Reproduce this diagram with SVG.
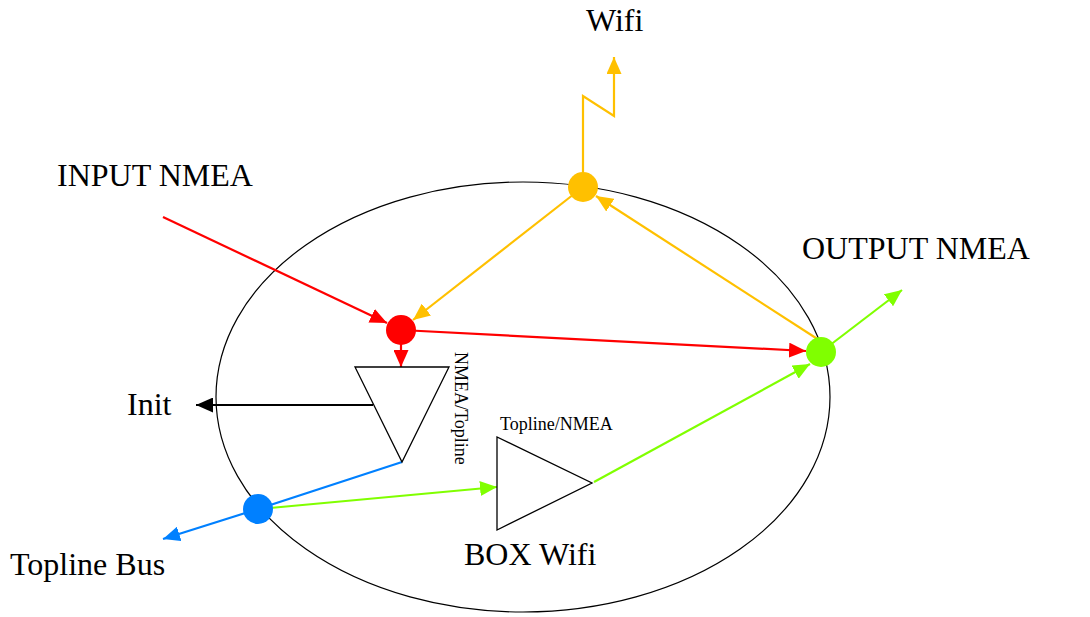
<svg xmlns="http://www.w3.org/2000/svg" width="1090" height="617" viewBox="0 0 1090 617">
<style>
.lbl{font-family:"Liberation Serif","Times New Roman",serif;font-size:32px;fill:#000}
.sm{font-family:"Liberation Serif","Times New Roman",serif;font-size:18px;fill:#000}
.c{fill:none;stroke-width:2.2}
.y{stroke:#FFC000}.r{stroke:#FF0000}.g{stroke:#80FF00}.b{stroke:#0080FF}.k{stroke:#000}
.tri{fill:#fff;stroke:#000;stroke-width:1.3}
</style>
<defs>
<marker id="ay" markerUnits="userSpaceOnUse" markerWidth="17" markerHeight="15" refX="17" refY="7.5" orient="auto"><path d="M0,0L17,7.5L0,15z" fill="#FFC000"/></marker>
<marker id="ar" markerUnits="userSpaceOnUse" markerWidth="17" markerHeight="15" refX="17" refY="7.5" orient="auto"><path d="M0,0L17,7.5L0,15z" fill="#FF0000"/></marker>
<marker id="ag" markerUnits="userSpaceOnUse" markerWidth="17" markerHeight="15" refX="17" refY="7.5" orient="auto"><path d="M0,0L17,7.5L0,15z" fill="#80FF00"/></marker>
<marker id="ab" markerUnits="userSpaceOnUse" markerWidth="17" markerHeight="15" refX="17" refY="7.5" orient="auto"><path d="M0,0L17,7.5L0,15z" fill="#0080FF"/></marker>
<marker id="ak" markerUnits="userSpaceOnUse" markerWidth="17" markerHeight="15" refX="17" refY="7.5" orient="auto"><path d="M0,0L17,7.5L0,15z" fill="#000"/></marker>
</defs>
<rect width="1090" height="617" fill="#fff"/>
<g id="boundary"><ellipse cx="523" cy="397" rx="307" ry="215" fill="none" stroke="#000" stroke-width="1.2"/></g>
<g id="connectors">
<polyline class="c y" points="583,187 583,96 614,116 614,57" marker-end="url(#ay)"/>
<line class="c y" x1="583" y1="187" x2="413" y2="320" marker-end="url(#ay)"/>
<line class="c y" x1="819" y1="340" x2="596" y2="196" marker-end="url(#ay)"/>
<line class="c r" x1="163" y1="217" x2="387" y2="323" marker-end="url(#ar)"/>
<line class="c r" x1="401" y1="340" x2="401" y2="367" marker-end="url(#ar)"/>
<line class="c r" x1="401" y1="330" x2="806" y2="351" marker-end="url(#ar)"/>
<line class="c k" x1="373" y1="405" x2="196" y2="405" marker-end="url(#ak)"/>
<polyline class="c b" points="402,462 258,509 163,539" marker-end="url(#ab)"/>
<line class="c g" x1="270" y1="508" x2="497" y2="487" marker-end="url(#ag)"/>
<line class="c g" x1="594" y1="482" x2="810" y2="364" marker-end="url(#ag)"/>
<line class="c g" x1="821" y1="352" x2="902" y2="290" marker-end="url(#ag)"/>
</g>
<g id="wifi-hub"><circle cx="583" cy="187" r="15" fill="#FFC000"/></g>
<g id="input-hub"><circle cx="401" cy="330" r="15" fill="#FF0000"/></g>
<g id="output-hub"><circle cx="821" cy="352" r="15" fill="#80FF00"/></g>
<g id="topline-hub"><circle cx="258" cy="509" r="15" fill="#0080FF"/></g>
<g id="nmea-topline"><polygon class="tri" points="355,367 449,367 402,462"/><text class="sm" transform="translate(455,352) rotate(90)">NMEA/Topline</text></g>
<g id="topline-nmea"><polygon class="tri" points="497,437 497,530 592,483"/><text class="sm" x="500" y="430">Topline/NMEA</text></g>
<g id="wifi"><text class="lbl" x="586" y="31">Wifi</text></g>
<g id="input-nmea"><text class="lbl" x="57" y="186">INPUT NMEA</text></g>
<g id="output-nmea"><text class="lbl" x="802" y="259">OUTPUT NMEA</text></g>
<g id="init"><text class="lbl" x="127" y="415">Init</text></g>
<g id="topline-bus"><text class="lbl" x="10" y="575">Topline Bus</text></g>
<g id="box-wifi"><text class="lbl" x="464" y="565">BOX Wifi</text></g>
</svg>
